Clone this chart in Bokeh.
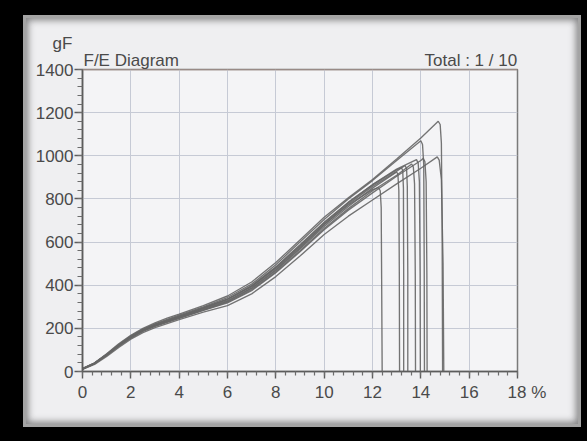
from bokeh.plotting import figure
from bokeh.models import Range1d, FixedTicker, Span, Title
from bokeh.layouts import column
from bokeh.embed import file_html
from bokeh.resources import INLINE

# ---------------- data ----------------
X_TICKS = [0, 2, 4, 6, 8, 10, 12, 14, 16, 18]
X_MINOR = [i * 0.4 for i in range(46)]
Y_TICKS = [0, 200, 400, 600, 800, 1000, 1200, 1400]
Y_MINOR = [i * 40 for i in range(36)]

BODY_X = [0, 0.5, 1, 1.5, 2, 2.5, 3, 3.5, 4, 5, 6, 7, 8, 9, 10, 11, 12]

c1_x = BODY_X + [12.25, 12.32, 12.36, 12.38, 12.4]
c1_y = [12, 38, 78, 121, 160, 191, 214, 233, 252, 290, 328, 388, 472, 573, 680, 772, 843,
        852, 838, 760, 400, 0]

c2_x = BODY_X + [13, 13.05, 13.09, 13.11, 13.12]
c2_y = [11, 37, 77, 120, 158, 189, 212, 231, 250, 287, 325, 385, 468, 568, 672, 765, 850,
        925, 915, 840, 450, 0]

c3_x = BODY_X + [13, 13.2, 13.25, 13.28, 13.29, 13.29]
c3_y = [13, 39, 79, 123, 162, 194, 218, 238, 257, 296, 336, 396, 482, 583, 688, 782, 865,
        935, 945, 932, 850, 450, 0]

c4_x = BODY_X + [13, 13.35, 13.41, 13.44, 13.46, 13.46]
c4_y = [12, 38, 78, 122, 160, 192, 216, 236, 255, 293, 333, 393, 478, 578, 682, 776, 858,
        928, 955, 940, 860, 450, 0]

c5_x = BODY_X + [13, 13.62, 13.69, 13.74, 13.77, 13.78]
c5_y = [11, 36, 76, 119, 157, 188, 211, 230, 248, 285, 322, 380, 462, 560, 663, 755, 838,
        910, 962, 948, 870, 450, 0]

c6_x = BODY_X + [13, 13.82, 13.89, 13.94, 13.97, 13.98]
c6_y = [12, 38, 79, 123, 162, 193, 217, 237, 256, 295, 336, 398, 485, 588, 692, 785, 866,
        938, 982, 966, 880, 450, 0]

c7_x = BODY_X + [13, 14, 14.07, 14.12, 14.14, 14.15]
c7_y = [12, 39, 80, 125, 165, 197, 221, 242, 261, 300, 343, 405, 495, 600, 705, 800, 885,
        978, 1070, 1052, 960, 500, 0]

c8_x = BODY_X + [13, 14, 14.1, 14.17, 14.22, 14.25, 14.26]
c8_y = [11, 36, 75, 117, 155, 186, 209, 228, 246, 283, 318, 375, 458, 555, 657, 748, 828,
        905, 978, 988, 972, 880, 450, 0]

c9_x = BODY_X + [13, 14, 14.68, 14.76, 14.85, 14.92, 14.95]
c9_y = [10, 33, 70, 112, 150, 180, 203, 222, 240, 275, 305, 360, 440, 535, 635, 720, 795,
        870, 942, 995, 980, 890, 500, 0]

c10_x = BODY_X + [13, 14, 14.72, 14.8, 14.85, 14.88, 14.9]
c10_y = [14, 40, 82, 128, 168, 200, 225, 247, 266, 305, 350, 415, 505, 610, 715, 805, 890,
         985, 1082, 1160, 1145, 1060, 700, 0]

CURVES = [(c1_x, c1_y), (c2_x, c2_y), (c3_x, c3_y), (c4_x, c4_y), (c5_x, c5_y),
          (c6_x, c6_y), (c7_x, c7_y), (c8_x, c8_y), (c9_x, c9_y), (c10_x, c10_y)]

TITLE_LEFT = "F/E Diagram"
TITLE_RIGHT = "Total : 1 / 10"
Y_UNIT = "gF"
X_UNIT = "%"

# ---------------- figure ----------------
FONT = "Liberation Sans"
TXT = "#4a4a4a"
NB = "\u00a0"
W, H = 552, 406
ML, MR, MT, MB = 56, 61, 51, 53

p = figure(width=W, height=H, output_backend="svg", toolbar_location=None, title=None,
           x_range=Range1d(X_TICKS[0], X_TICKS[-1]), y_range=Range1d(Y_TICKS[0], Y_TICKS[-1]),
           min_border_left=ML, min_border_right=MR, min_border_top=MT, min_border_bottom=MB)
p.border_fill_alpha = 0
p.background_fill_color = "#f4f4f6"
p.outline_line_color = "#7a7a7a"
p.outline_line_width = 1.5

xt = FixedTicker(ticks=X_TICKS, minor_ticks=X_MINOR)
yt = FixedTicker(ticks=Y_TICKS, minor_ticks=Y_MINOR)
p.xaxis.ticker = xt
p.yaxis.ticker = yt
p.xgrid.ticker = xt
p.ygrid.ticker = yt
for g in (p.xgrid, p.ygrid):
    g.grid_line_color = "#c6cad5"
    g.grid_line_width = 1

for ax in (p.xaxis, p.yaxis):
    ax.axis_line_color = "#5c5c5c"
    ax.axis_line_width = 1.6
    ax.major_tick_line_color = "#5c5c5c"
    ax.minor_tick_line_color = "#6c6c6c"
    ax.major_tick_line_width = 1.4
    ax.minor_tick_line_width = 1.2
    ax.major_tick_in = 0
    ax.minor_tick_in = 0
    ax.major_label_text_font = FONT
    ax.major_label_text_font_size = "17px"
    ax.major_label_text_color = TXT

p.xaxis.major_tick_out = 7
p.xaxis.minor_tick_out = 4
p.xaxis.major_label_standoff = 4
p.yaxis.major_tick_out = 8
p.yaxis.minor_tick_out = 5
p.yaxis.major_label_standoff = 1

# last x tick carries the unit, padded so that the number stays centred on its tick
last = X_TICKS[-1]
p.xaxis.major_label_overrides = {last: NB * 4 + str(last) + NB + X_UNIT}

p.add_layout(Span(location=Y_TICKS[-1], dimension="width", line_color="#b59a92", line_width=1.6))

for xs, ys in CURVES:
    p.line(xs, ys, line_color="#666666", line_width=1.35, line_alpha=0.9)

# header row (nearest the frame): left title and right counter on one line
head = Title(text=TITLE_LEFT + NB * 52 + TITLE_RIGHT, align="left", offset=1, standoff=0,
             text_font=FONT, text_font_size="17px", text_font_style="normal", text_color=TXT)
p.add_layout(head, "above")
# unit of the y axis, above the header row
unit = Title(text=Y_UNIT, align="left", offset=-30, standoff=-8,
             text_font=FONT, text_font_size="17px", text_font_style="normal", text_color=TXT)
p.add_layout(unit, "above")

inner = column(p, styles={"background-color": "#efeff1",
                          "border": "3px solid #a4a4a4",
                          "box-shadow": "inset 0 0 7px 2px rgba(40,40,40,0.55)"})
outer = column(inner, styles={"background-color": "#000000",
                              "padding": "15px 6px 14px 23px"})

open("out.html", "w").write(file_html(outer, INLINE))
